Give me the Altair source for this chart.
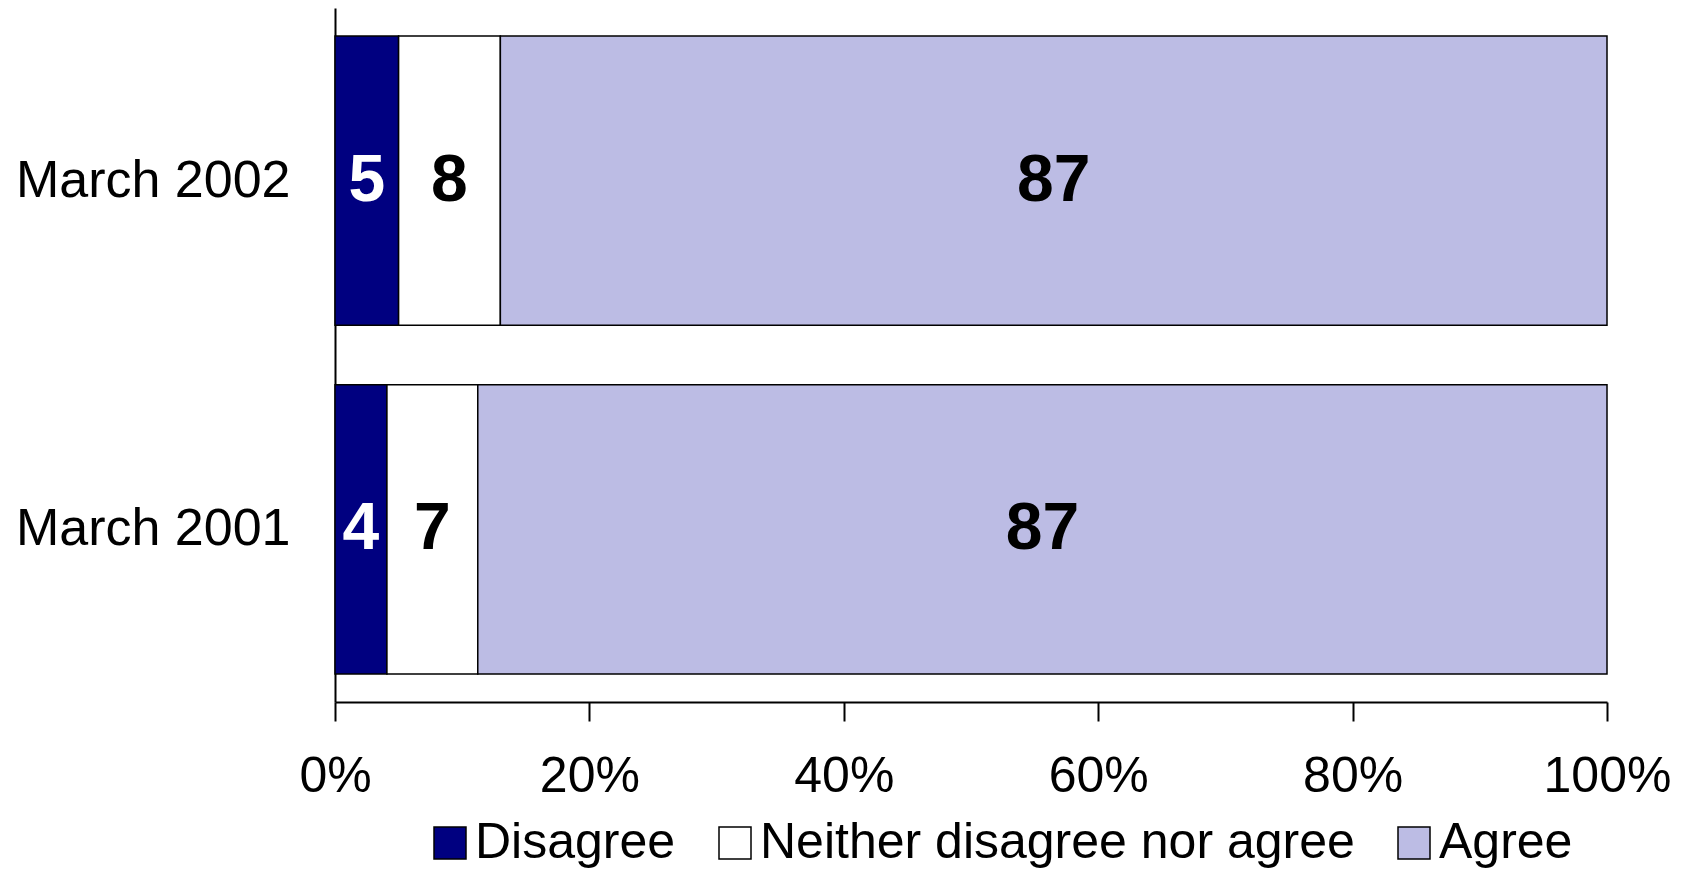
import altair as alt
import pandas as pd

periods = ["March 2002", "March 2001"]
responses = ["Disagree", "Neither disagree nor agree", "Agree"]
disagree = [5, 4]
neither = [8, 7]
agree = [87, 87]
colors = ["#000080", "#ffffff", "#bcbce4"]
label_colors = ["#ffffff", "#000000", "#000000"]

rows = []
for i, p in enumerate(periods):
    for j, (r, v) in enumerate(zip(responses, [disagree[i], neither[i], agree[i]])):
        rows.append({"period": p, "response": r, "value": v, "order": j,
                     "lblcolor": label_colors[j]})
df = pd.DataFrame(rows)

FONT = "Liberation Sans"

y_enc = alt.Y("period:N", sort=periods, title=None,
              scale=alt.Scale(paddingInner=0.17, paddingOuter=0.08),
              axis=alt.Axis(ticks=False, labelPadding=45, labelFontSize=52,
                            labelFont=FONT, labelColor="black", labelLimit=500,
                            domainColor="black", domainWidth=2))

bars = alt.Chart(df).mark_bar(stroke="black", strokeWidth=1.5).encode(
    x=alt.X("value:Q", stack="normalize", title=None,
            scale=alt.Scale(domain=[0, 1], nice=False),
            axis=alt.Axis(values=[0, 0.2, 0.4, 0.6, 0.8, 1.0], format=".0%",
                          grid=False, tickSize=19, tickColor="black", tickWidth=2,
                          domainColor="black", domainWidth=2, labelPadding=30,
                          labelFontSize=50, labelFont=FONT, labelColor="black",
                          labelFlush=False)),
    y=y_enc,
    fill=alt.Fill("response:N", sort=responses,
                  scale=alt.Scale(domain=responses, range=colors),
                  legend=alt.Legend(title=None, orient="none", direction="horizontal",
                                    legendX=90, legendY=810)),
    order=alt.Order("order:Q"),
)

labels = alt.Chart(df).transform_joinaggregate(
    total="sum(value)", groupby=["period"]
).transform_window(
    cum="sum(value)", sort=[alt.SortField("order")], groupby=["period"],
    frame=[None, 0]
).transform_calculate(
    mid="(datum.cum - datum.value / 2) / datum.total"
).mark_text(font=FONT, fontWeight="bold", fontSize=66, baseline="middle",
            align="center").encode(
    x=alt.X("mid:Q"),
    y=alt.Y("period:N", sort=periods),
    text=alt.Text("value:Q"),
    color=alt.Color("lblcolor:N", scale=None, legend=None),
)

chart = alt.layer(bars, labels).properties(
    width=1272, height=694,
    autosize=alt.AutoSizeParams(type="none"),
    padding={"left": 327, "top": 0, "right": 69, "bottom": 172},
).configure(background="white").configure_view(stroke=None).configure_legend(
    symbolType="square", symbolSize=1024, symbolStrokeColor="black",
    symbolStrokeWidth=1.5, labelFontSize=50, labelFont=FONT, labelColor="black",
    labelLimit=800, labelOffset=0, columnPadding=34, padding=0,
    labelBaseline="middle",
)

chart.save("out.html", embed_options={"renderer": "svg", "actions": False})
